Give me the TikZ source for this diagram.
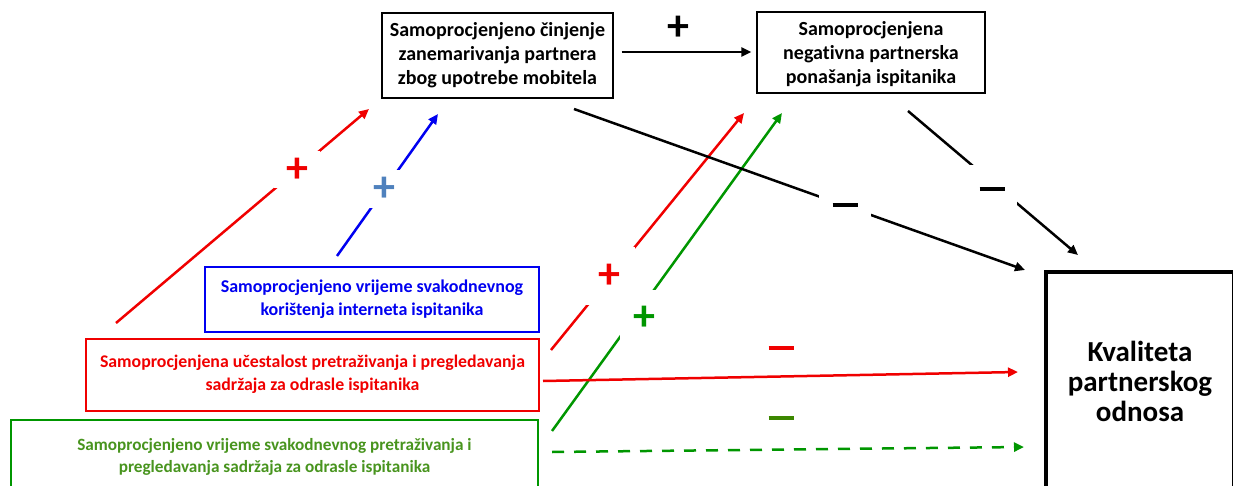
\documentclass[tikz,border=0pt]{standalone}
\usepackage{fontspec}
\setmainfont[Ligatures=NoCommon]{Carlito}
\usetikzlibrary{arrows.meta}
\definecolor{pathred}{RGB}{240,0,0}
\definecolor{pathblue}{RGB}{0,0,240}
\definecolor{pathgreen}{RGB}{0,150,0}
\definecolor{textgreen}{RGB}{72,148,30}
\definecolor{signgreen}{RGB}{60,135,0}
\definecolor{signblue}{RGB}{79,129,189}
\tikzset{
  box/.style={draw, line width=1.4pt, align=center, inner sep=0pt,
    font=\bfseries\fontsize{20}{24}\selectfont},
  lowbox/.style={box, line width=2pt},
  conn/.style={line width=2.5pt, -{Triangle[length=10pt,width=9pt]}},
  gap/.style={fill=white, inner sep=0pt},
  sign/.style={gap, font=\bfseries\fontsize{44}{44}\selectfont},
}
\newcommand{\minusbar}{\rule[-2.25pt]{25pt}{4.5pt}}
\begin{document}
\begin{tikzpicture}[x=1pt,y=-1pt]
\useasboundingbox (0,0) rectangle (1233,486);
\clip (0,0) rectangle (1233,486);

% boxes
\node[box, minimum width=231, minimum height=85] (neglect) at (497.5,55.5)
  {Samoprocjenjeno činjenje\\zanemarivanja partnera\\zbog upotrebe mobitela};
\node[box, minimum width=228, minimum height=81, text depth=-6pt] (negbeh) at (871,52.5)
  {Samoprocjenjena\\negativna partnerska\\ponašanja ispitanika};
\node[lowbox, draw=pathblue, text=pathblue, minimum width=334, minimum height=65,
  font=\bfseries\fontsize{18}{23}\selectfont] (internet) at (372,299.5)
  {Samoprocjenjeno vrijeme svakodnevnog\\korištenja interneta ispitanika};
\node[lowbox, draw=pathred, text=pathred, minimum width=453, minimum height=72,
  font=\bfseries\fontsize{17.8}{23}\selectfont] (freq) at (312.5,374.5)
  {Samoprocjenjena učestalost pretraživanja i pregledavanja\\sadržaja za odrasle ispitanika};
\node[lowbox, draw=pathgreen, text=textgreen, minimum width=527, minimum height=73,
  font=\bfseries\fontsize{17.2}{22}\selectfont] (time) at (274.5,456.5)
  {Samoprocjenjeno vrijeme svakodnevnog pretraživanja i\\pregledavanja sadržaja za odrasle ispitanika};
\node[draw, line width=4pt, align=center, minimum width=188, minimum height=218,
  font=\bfseries\fontsize{29}{30}\selectfont] (quality) at (1140,381)
  {Kvaliteta\\partnerskog\\odnosa};

% free ends of the connectors
\coordinate (fA) at (116,323);   \coordinate (fB) at (369,109);
\coordinate (iA) at (337,256);   \coordinate (iB) at (438,114);
\coordinate (gA) at (551,350);   \coordinate (gB) at (744,113);
\coordinate (tA) at (552,431);   \coordinate (tB) at (782,113);
\coordinate (nA) at (574,109);   \coordinate (nB) at (1025,270);
\coordinate (bA) at (908,111);   \coordinate (bB) at (1078,255);
\coordinate (hA) at (543,381);   \coordinate (hB) at (1018,372);
\coordinate (dA) at (552,452);   \coordinate (dB) at (1024,447);

% connectors
\draw[conn] ([xshift=8]neglect.east |- 0,52) -- ([xshift=-5]negbeh.west |- 0,52);
\draw[conn, pathred] (fA) -- (fB);
\draw[conn, pathblue] (iA) -- (iB);
\draw[conn, pathred] (gA) -- (gB);
\draw[conn, pathgreen] (tA) -- (tB);
\draw[conn] (nA) -- (nB);
\draw[conn] (bA) -- (bB);
\draw[conn, pathred] (hA) -- (hB);
\draw[conn, pathgreen, dash pattern=on 12pt off 10pt] (dA) -- (dB);

% signs
\node[sign] (s0) at (678,28) {+};
\node[sign, text=pathred, minimum width=46, minimum height=37] (s1) at (297,170) {+};
\node[sign, text=signblue, minimum width=42, minimum height=38] (s2) at (384,189) {+};
\node[sign, text=pathred, minimum width=52, minimum height=57] (s3) at (609,276) {+};
\node[sign, text=pathgreen, minimum width=48, minimum height=56] (s4) at (644,318) {+};
\node[gap, minimum width=52, minimum height=25] (s5) at (845,205) {\minusbar};
\node[gap, minimum width=50, minimum height=47] (s6) at (992,189) {\minusbar};
\node[gap, text=pathred] (s7) at (781,348) {\minusbar};
\node[gap, text=signgreen] (s8) at (781,418) {\minusbar};
\end{tikzpicture}
\end{document}
